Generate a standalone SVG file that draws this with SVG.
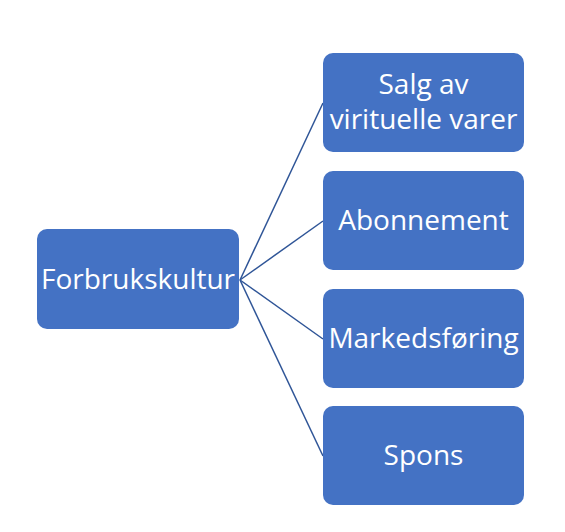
<svg xmlns="http://www.w3.org/2000/svg" width="565" height="532" viewBox="0 0 565 532">
<style>
.box{fill:#4472C4;}
.t{font-family:"Open Sans","Noto Sans",sans-serif;font-size:28px;fill:#fff;text-anchor:middle;}
.c{stroke:#2F5597;stroke-width:1.5;fill:none;}
</style>
<rect width="565" height="532" fill="#fff"/>
<g id="connectors">
<line class="c" x1="240" y1="280" x2="323" y2="103"/>
<line class="c" x1="240" y1="280" x2="323" y2="221"/>
<line class="c" x1="240" y1="280" x2="323" y2="339"/>
<line class="c" x1="240" y1="280" x2="323" y2="456"/>
</g>
<g id="forbrukskultur">
<rect class="box" x="37" y="229" width="202" height="100" rx="10"/>
<text class="t" x="138" y="289">Forbrukskultur</text>
</g>
<g id="salg">
<rect class="box" x="323" y="53" width="201" height="99" rx="10"/>
<text class="t" x="423.5" y="94">Salg av</text>
<text class="t" x="423.5" y="129">virituelle varer</text>
</g>
<g id="abonnement">
<rect class="box" x="323" y="171" width="201" height="99" rx="10"/>
<text class="t" x="423.5" y="230">Abonnement</text>
</g>
<g id="markedsforing">
<rect class="box" x="323" y="289" width="201" height="99" rx="10"/>
<text class="t" x="423.5" y="348">Markedsføring</text>
</g>
<g id="spons">
<rect class="box" x="323" y="406" width="201" height="99" rx="10"/>
<text class="t" x="423.5" y="465">Spons</text>
</g>
</svg>
